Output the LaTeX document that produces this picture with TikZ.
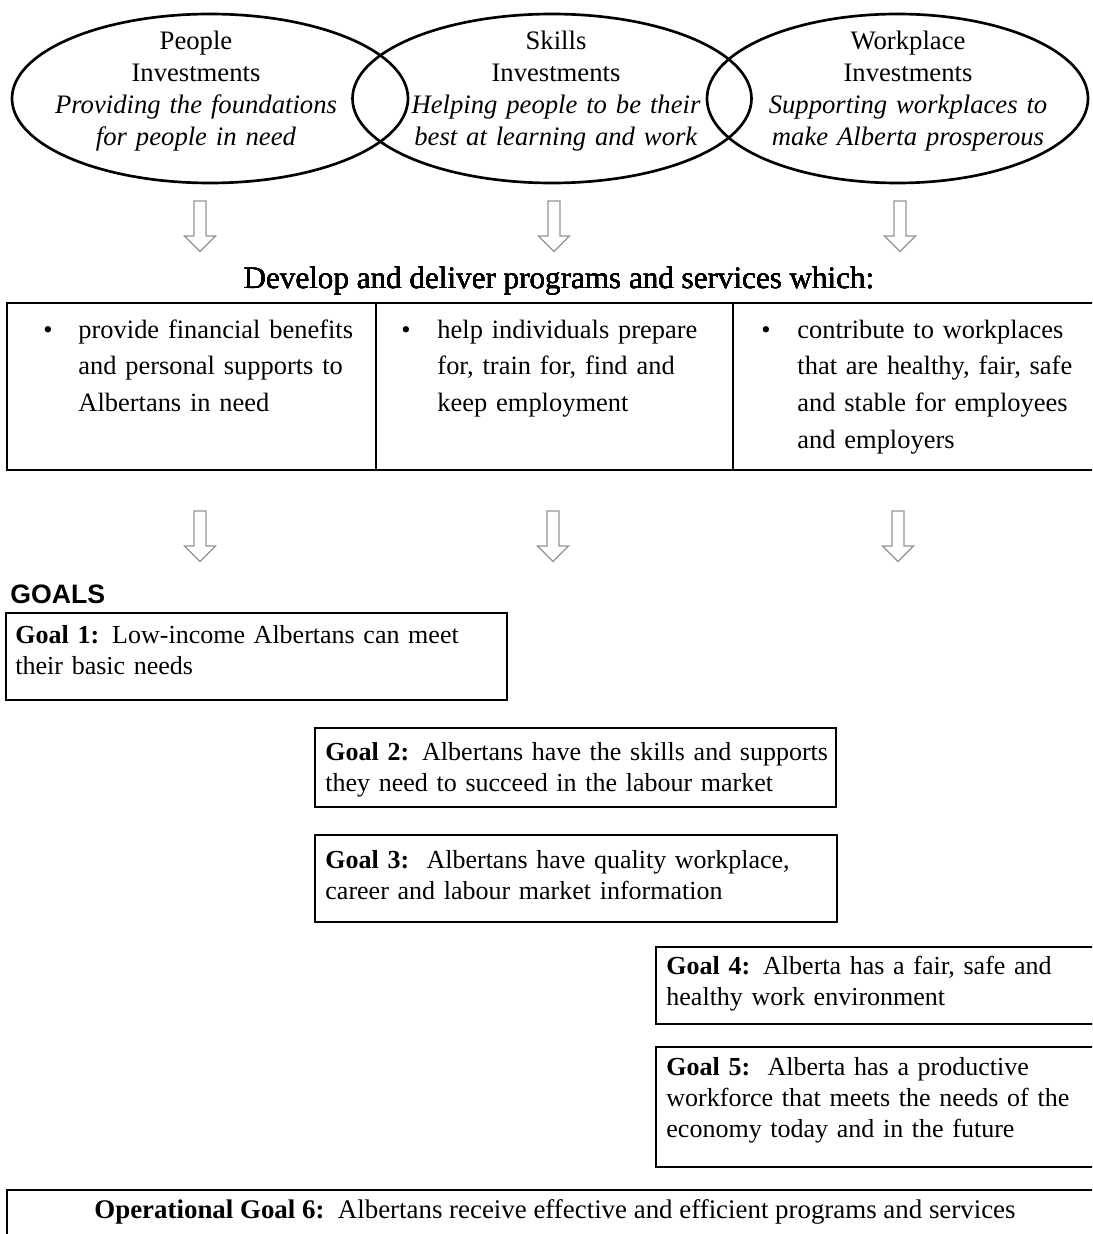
\documentclass[tikz,border=0pt]{standalone}
\usepackage{fontspec}
\setmainfont{Liberation Serif}
\newfontfamily\goalsfamily{Liberation Sans}
\usepackage{tikz}
\usetikzlibrary{shapes.geometric}
\newlength{\px}
\setlength{\px}{0.45pt}
\newcommand{\invfont}{\fontsize{12}{14.3}\selectfont}
\newcommand{\cellfont}{\fontsize{11.9}{16.5}\selectfont}
\newcommand{\goalfont}{\fontsize{11.7}{14}\selectfont}
\newcommand{\downblock}[2]{\draw[blockarrow] (#1,#2) ++(-6,0) -- ++(12,0) -- ++(0,35) -- ++(9.5,0) -- ++(-15.5,15.5) -- ++(-15.5,-15.5) -- ++(9.5,0) -- cycle;}
\tikzstyle{investment}=[draw, ellipse, line width=1.2pt, inner sep=0, outer sep=0, minimum height=169\px]
\tikzstyle{invtext}=[inner sep=0, anchor=base, text width=380\px, align=center, font=\invfont]
\tikzstyle{blockarrow}=[draw=gray!85, line width=0.5pt]
\tikzstyle{cell}=[draw, line width=1pt, inner sep=0, outer sep=0, minimum height=167\px, anchor=north west]
\tikzstyle{celltext}=[inner sep=0, anchor=base west, text width=300\px, align=left, font=\cellfont]
\tikzstyle{bulletmark}=[inner sep=0, anchor=base, font=\cellfont]
\tikzstyle{goalbox}=[draw, line width=0.9pt, inner sep=0, outer sep=0, anchor=north west]
\tikzstyle{goaltext}=[inner sep=0, anchor=base west, text width=560\px, align=left, font=\goalfont]
\begin{document}
\begin{tikzpicture}[x=\px, y=-\px]
    \useasboundingbox (0,0) rectangle (1092,1234);
    \clip (0,0) rectangle (1092,1234);
        % investments
        \node[investment, minimum width=396\px] (people)    at (210,98.5)   {};
        \node[investment, minimum width=399\px] (skills)    at (552,98.5)   {};
        \node[investment, minimum width=381\px] (workplace) at (897.5,98.5) {};
        \node[invtext] (peopletext)    at (196,50) {People\\Investments\\\textit{Providing the foundations}\\\textit{for people in need}};
        \node[invtext] (skillstext)    at (556,50) {Skills\\Investments\\\textit{Helping people to be their}\\\textit{best at learning and work}};
        \node[invtext] (workplacetext) at (908,50) {Workplace\\Investments\\\textit{Supporting workplaces to}\\\textit{make Alberta prosperous}};
        % arrows
        \foreach \ax/\ay in {200/201, 554/201, 900/201, 200/511, 553/511, 898/511}
            \downblock{\ax}{\ay}
        % programs and services
        \node[inner sep=0, anchor=base, font=\fontsize{14}{16}\selectfont] (develop) at (559,288) {Develop and deliver programs and services which:};
        \node[cell, minimum width=369\px] (cellA) at (7,303)   {};
        \node[cell, minimum width=357\px] (cellB) at (376,303) {};
        \node[cell, minimum width=380\px] (cellC) at (733,303) {};
        \node[bulletmark] (bulletA) at (48,338)  {\textbullet};
        \node[bulletmark] (bulletB) at (406,338) {\textbullet};
        \node[bulletmark] (bulletC) at (766,338) {\textbullet};
        \node[celltext] (textA) at (78,338)  {provide financial benefits\\and personal supports to\\Albertans in need};
        \node[celltext] (textB) at (437,338) {help individuals prepare\\for, train for, find and\\keep employment};
        \node[celltext] (textC) at (797,338) {contribute to workplaces\\that are healthy, fair, safe\\and stable for employees\\and employers};
        % goals
        \node[inner sep=0, anchor=base west, font=\goalsfamily\bfseries\fontsize{12}{14}\selectfont] (goals) at (10,603) {GOALS};
        \node[goalbox, minimum width=501\px, minimum height=87\px]  (goalA) at (6,613)    {};
        \node[goalbox, minimum width=521\px, minimum height=79\px]  (goalB) at (315,728)  {};
        \node[goalbox, minimum width=522\px, minimum height=87\px]  (goalC) at (315,835)  {};
        \node[goalbox, minimum width=460\px, minimum height=77\px]  (goalD) at (656,947)  {};
        \node[goalbox, minimum width=460\px, minimum height=120\px] (goalE) at (656,1047) {};
        \node[goalbox, minimum width=1100\px, minimum height=70\px] (goalF) at (7,1190)   {};
        \node[goaltext] (goalAtext) at (15,643)   {\textbf{Goal 1:} Low-income Albertans can meet\\their basic needs};
        \node[goaltext] (goalBtext) at (325,760)  {\textbf{Goal 2:} Albertans have the skills and supports\\they need to succeed in the labour market};
        \node[goaltext] (goalCtext) at (325,868)  {\textbf{Goal 3:}\ \ Albertans have quality workplace,\\career and labour market information};
        \node[goaltext] (goalDtext) at (666,974)  {\textbf{Goal 4:} Alberta has a fair, safe and\\healthy work environment};
        \node[goaltext] (goalEtext) at (666,1075) {\textbf{Goal 5:}\ \ Alberta has a productive\\workforce that meets the needs of the\\economy today and in the future};
        \node[inner sep=0, anchor=base, font=\fontsize{12.1}{14}\selectfont] (goalFtext) at (555,1218) {\textbf{Operational Goal 6:}\ \ Albertans receive effective and efficient programs and services};
    \end{tikzpicture}
\end{document}
